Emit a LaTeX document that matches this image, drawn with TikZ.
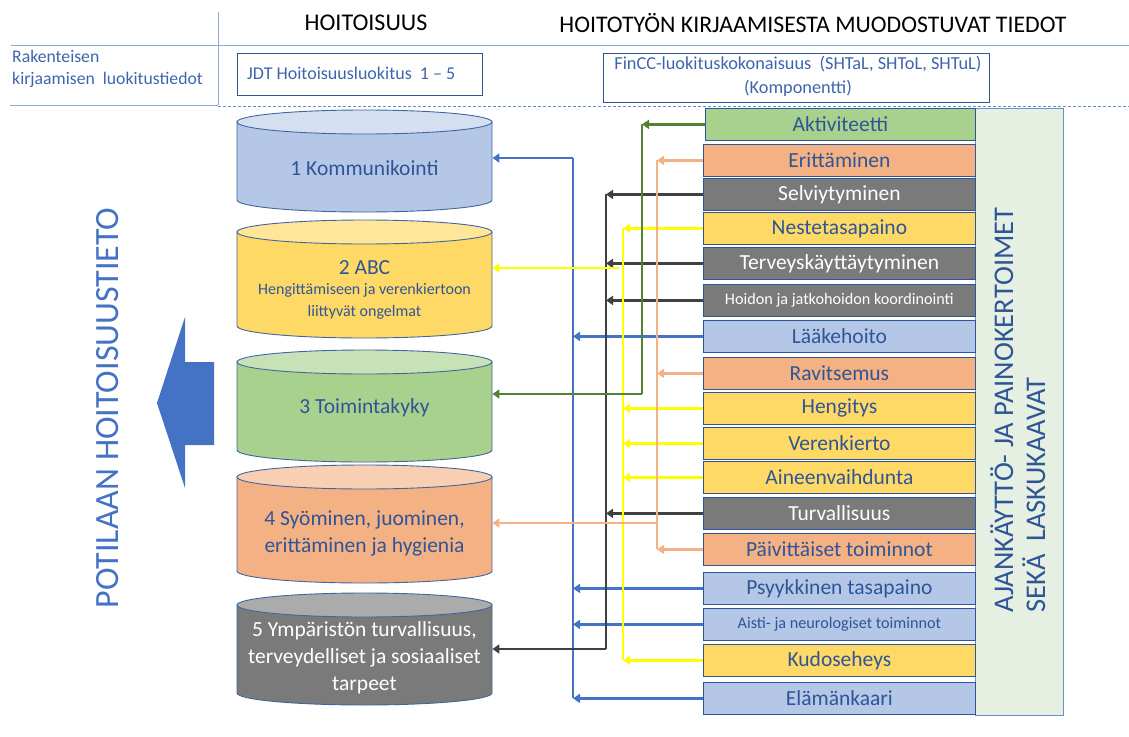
\documentclass[tikz,border=0pt]{standalone}
\usepackage{fontspec}
\setmainfont{Carlito}
\usetikzlibrary{arrows.meta}
\definecolor{dblue}{HTML}{2F5597}
\definecolor{mblue}{HTML}{4472C4}
\definecolor{tblue}{HTML}{3E64AE}
\definecolor{lblue}{HTML}{B4C7E7}
\definecolor{llblue}{HTML}{D4DFF2}
\definecolor{gold}{HTML}{FFD966}
\definecolor{lgold}{HTML}{FFE699}
\definecolor{lgreen}{HTML}{A9D18E}
\definecolor{llgreen}{HTML}{C8E2B8}
\definecolor{salm}{HTML}{F4B183}
\definecolor{lsalm}{HTML}{F8CFB3}
\definecolor{dgray}{HTML}{7A7A7A}
\definecolor{lgray}{HTML}{ABABAB}
\definecolor{dgreen}{HTML}{548235}
\definecolor{blk}{HTML}{404040}
\definecolor{yel}{HTML}{FFFF00}
\definecolor{panelc}{HTML}{E5F0E2}
\definecolor{rulec}{HTML}{8FAADC}
\definecolor{cylb}{HTML}{41659F}
\newcommand\mycyl[5]{%
  \pgfmathsetmacro\cta{#2+12}\pgfmathsetmacro\cbb{#3-12}%
  \filldraw[fill=#4, draw=cylb, line width=0.9pt] (237,\cta) -- (237,\cbb)
     arc[start angle=180,end angle=360,x radius=127.5pt,y radius=12pt] -- (492,\cta) -- cycle;
  \filldraw[fill=#5, draw=cylb, line width=0.9pt] (364.5,\cta) ellipse[x radius=127.5pt, y radius=12pt];
  \node[name=#1, minimum width=255pt, minimum height={#3-#2}, inner sep=0pt, anchor=north west] at (237,#2) {};
}
\begin{document}
\begin{tikzpicture}[x=1pt,y=-1pt,
  comp/.style={draw=dblue, line width=0.8pt, minimum width=272pt, minimum height=32pt,
     anchor=north west, inner sep=0pt, font=\fontsize{21.5}{24}\selectfont, text=dblue},
  grayc/.style={comp, fill=dgray, text=white},
  small/.style={font=\fontsize{16.2}{18}\selectfont},
  ctext/.style={text=dblue, align=center, inner sep=0pt},
  wire/.style={line width=2.4pt},
  arr/.style={line width=2.4pt, -{Triangle[length=7pt,width=9pt]}},
]
\useasboundingbox (0,0) rectangle (1129,736);
% header
\draw[rulec, line width=1pt] (11,45) -- (1129,45);
\draw[rulec, line width=1pt] (218,12) -- (218,105);
\draw[rulec, line width=1pt] (10,105) -- (218,105);
\draw[mblue!80, line width=1pt, dash pattern=on 3pt off 2pt] (218,106) -- (1129,106);
\node[font=\fontsize{24}{26}\selectfont] (h1) at (366,23) {HOITOISUUS};
\node[font=\fontsize{23.8}{26}\selectfont] (h2) at (813,23) {HOITOTYÖN KIRJAAMISESTA MUODOSTUVAT TIEDOT};
\node[anchor=west, align=left, text=tblue, font=\fontsize{17.7}{22}\selectfont, inner sep=0pt] (rk) at (12,69) {Rakenteisen\\kirjaamisen\ \ luokitustiedot};
\node[draw=dblue, line width=1pt, minimum width=245pt, minimum height=42pt, anchor=north west, inner sep=0pt] (jdt) at (237,53) {};
\node[anchor=west, text=tblue, font=\fontsize{18}{20}\selectfont, inner sep=0pt] (jdtt) at (247,73) {JDT Hoitoisuusluokitus\ \ 1 – 5};
\node[draw=dblue, line width=1pt, minimum width=386pt, minimum height=49pt, anchor=north west, inner sep=0pt] (fin) at (603,53) {};
\node[text=tblue, align=center, font=\fontsize{18.3}{24}\selectfont, inner sep=0pt] (fint) at (798,76) {FinCC-luokituskokonaisuus\ \ (SHTaL, SHToL, SHTuL)\\(Komponentti)};
% big arrow and side label
\fill[mblue] (157,403) -- (185,317) -- (185,362) -- (214,362) -- (214,445) -- (185,445) -- (185,488) -- cycle;
\node[rotate=90, anchor=base, text=mblue, font=\fontsize{34}{36}\selectfont, inner sep=0pt] (pot) at (118,408) {POTILAAN HOITOISUUSTIETO};
% cylinders
\mycyl{c1}{110}{212}{lblue}{llblue}
\mycyl{c2}{220}{338}{gold}{lgold}
\mycyl{c3}{350}{462}{lgreen}{llgreen}
\mycyl{c4}{465}{583}{salm}{lsalm}
\mycyl{c5}{593}{705}{dgray}{lgray}
\node[ctext, font=\fontsize{21.5}{24}\selectfont] (t1) at (364.5,168) {1 Kommunikointi};
\node[ctext, font=\fontsize{21.5}{24}\selectfont] (t2a) at (364.5,268) {2 ABC};
\node[ctext, font=\fontsize{16}{22}\selectfont] (t2b) at (364.5,301) {Hengittämiseen ja verenkiertoon\\liittyvät ongelmat};
\node[ctext, font=\fontsize{21.5}{24}\selectfont] (t3) at (364.5,408) {3 Toimintakyky};
\node[ctext, font=\fontsize{21.5}{27}\selectfont] (t4) at (364.5,533) {4 Syöminen, juominen,\\erittäminen ja hygienia};
\node[ctext, text=white, font=\fontsize{21.5}{27}\selectfont] (t5) at (364.5,658) {5 Ympäristön turvallisuus,\\terveydelliset ja sosiaaliset\\tarpeet};
% right panel
\node[draw=mblue!80, line width=1pt, fill=panelc, minimum width=88pt, minimum height=607pt, anchor=north west, inner sep=0pt] (pan) at (975,108) {};
\node[rotate=90, anchor=base west, text=dblue, font=\fontsize{28.5}{32}\selectfont, inner sep=0pt] (pant1) at (1013,613) {AJANKÄYTTÖ- JA PAINOKERTOIMET};
\node[rotate=90, anchor=base west, text=dblue, font=\fontsize{28.5}{32}\selectfont, inner sep=0pt] (pant2) at (1045,613) {SEKÄ\ \ LASKUKAAVAT};
% component boxes
\node[comp, fill=lgreen, minimum width=270pt] (b1) at (705,108) {Aktiviteetti};
\node[comp, fill=salm] (b2) at (703,144) {Erittäminen};
\node[grayc] (b3) at (703,178) {Selviytyminen};
\node[comp, fill=gold] (b4) at (703,212) {Nestetasapaino};
\node[grayc] (b5) at (703,247) {Terveyskäyttäytyminen};
\node[grayc, small] (b6) at (703,284) {Hoidon ja jatkohoidon koordinointi};
\node[comp, fill=lblue] (b7) at (703,320) {Lääkehoito};
\node[comp, fill=salm] (b8) at (703,357) {Ravitsemus};
\node[comp, fill=gold] (b9) at (703,392) {Hengitys};
\node[comp, fill=gold] (b10) at (703,427) {Verenkierto};
\node[comp, fill=gold] (b11) at (703,461) {Aineenvaihdunta};
\node[grayc] (b12) at (703,497) {Turvallisuus};
\node[comp, fill=salm] (b13) at (703,533) {Päivittäiset toiminnot};
\node[comp, fill=lblue] (b14) at (703,572) {Psyykkinen tasapaino};
\node[comp, fill=lblue, small] (b15) at (703,608) {Aisti- ja neurologiset toiminnot};
\node[comp, fill=gold] (b16) at (703,644) {Kudoseheys};
\node[comp, fill=lblue] (b17) at (703,682) {Elämänkaari};
% bus coordinates
\coordinate (busB) at (573,158);
\coordinate (busK) at (606,649);
\coordinate (busY) at (623,268);
\coordinate (busG) at (642,394);
\coordinate (busS) at (657,523);
\coordinate (yel2) at (619,268);
% blue
\draw[wire, mblue] (busB) -- (busB |- b17.west);
\draw[arr, mblue] (busB) -- (busB -| c1.east);
\foreach \b in {b7,b14,b15,b17} \draw[arr, mblue] (\b.west) -- (\b.west -| busB);
% black
\draw[wire, blk] (b3.west -| busK) -- (busK);
\draw[arr, blk] (busK) -- (busK -| c5.east);
\foreach \b in {b3,b5,b6,b12} \draw[arr, blk] (\b.west) -- (\b.west -| busK);
% yellow
\draw[wire, yel] (b4.west -| busY) -- (b16.west -| busY);
\draw[arr, yel] (yel2) -- (yel2 -| c2.east);
\foreach \b in {b4,b9,b10,b11,b16} \draw[arr, yel] (\b.west) -- (\b.west -| busY);
% green
\draw[wire, dgreen] (b1.west -| busG) -- (busG);
\draw[arr, dgreen] (busG) -- (busG -| c3.east);
\draw[arr, dgreen] (b1.west) -- (b1.west -| busG);
% salmon
\draw[wire, salm] (b2.west -| busS) -- (b13.west -| busS);
\draw[arr, salm] (busS) -- (busS -| c4.east);
\foreach \b in {b2,b8,b13} \draw[arr, salm] (\b.west) -- (\b.west -| busS);
\end{tikzpicture}
\end{document}
